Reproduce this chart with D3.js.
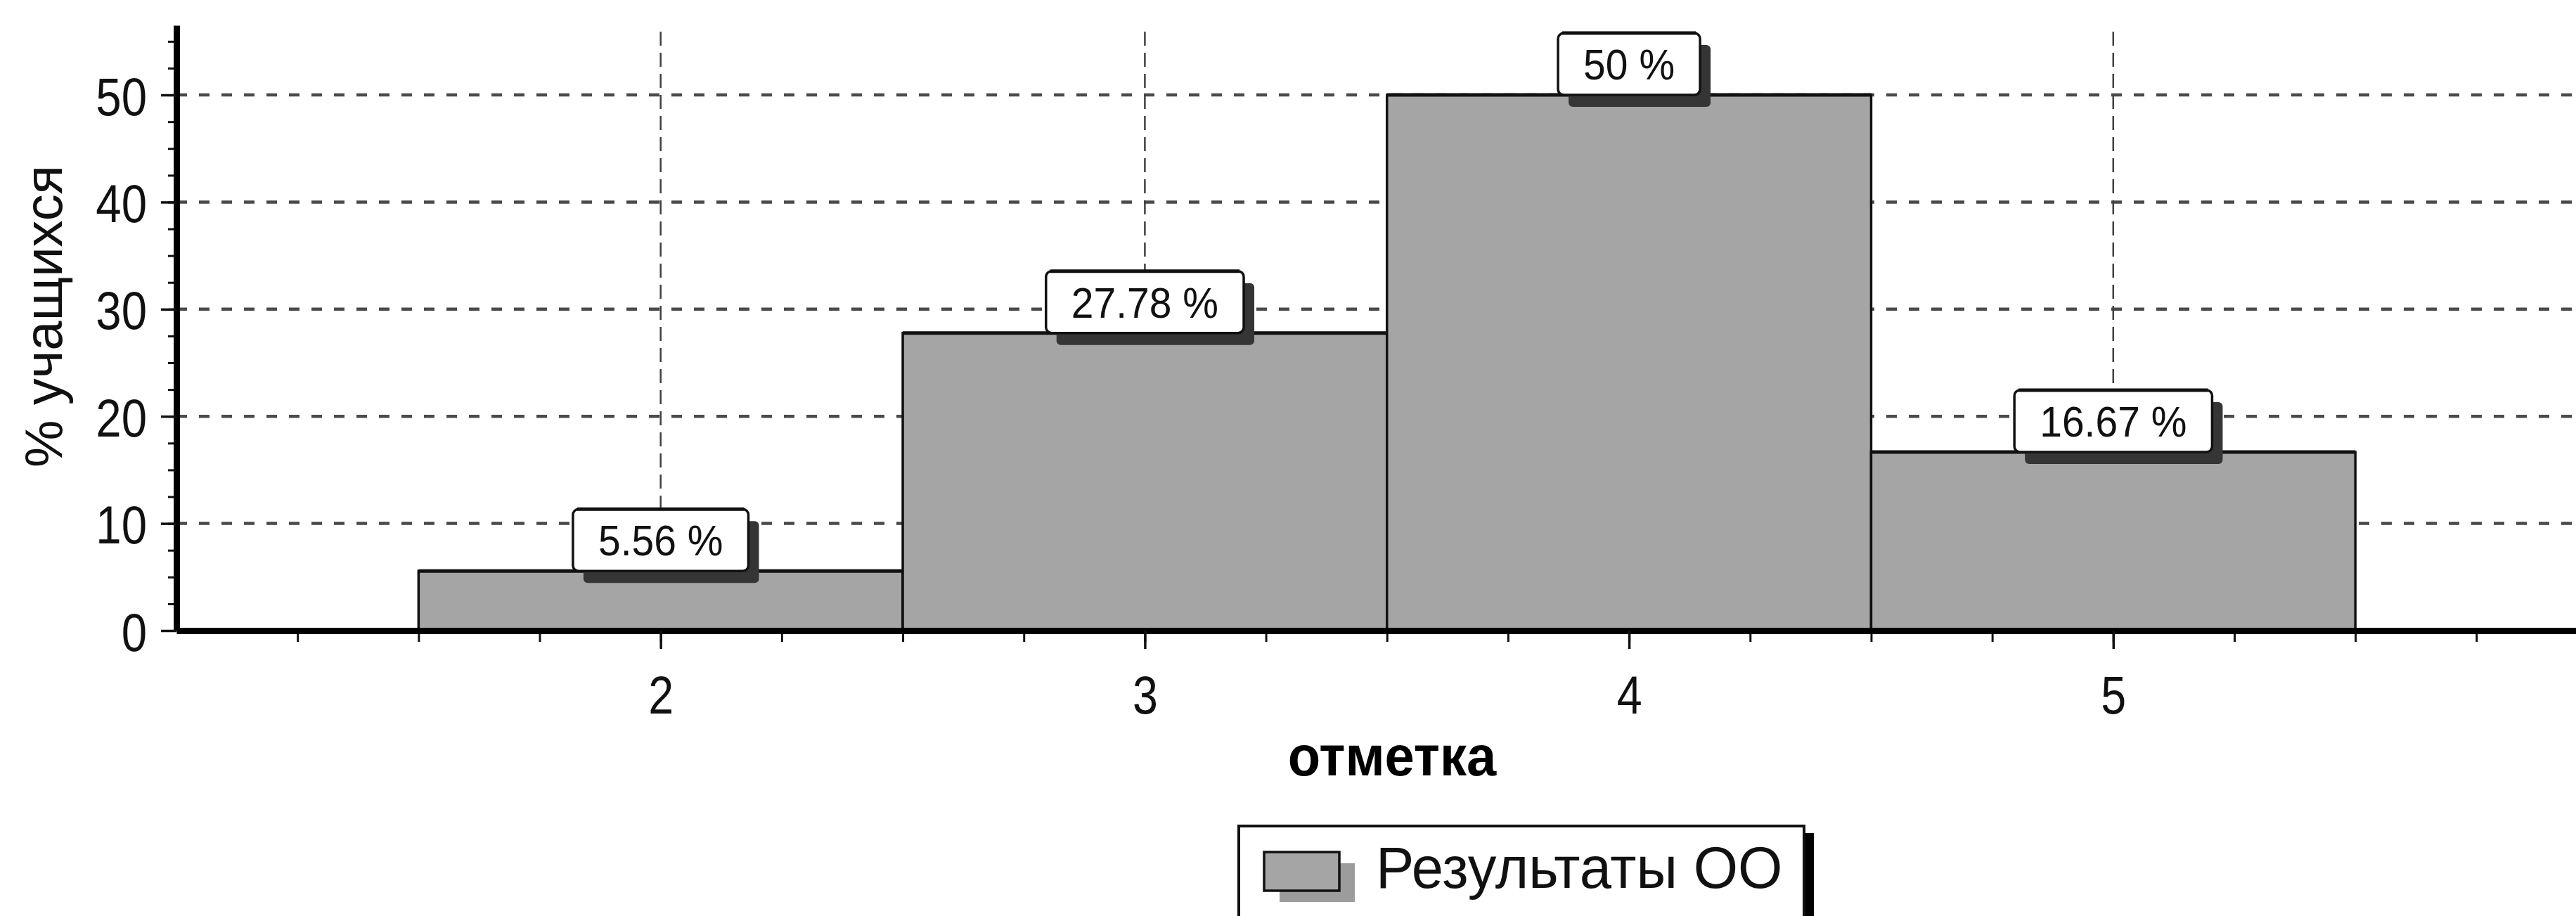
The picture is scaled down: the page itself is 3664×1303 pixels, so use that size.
<!DOCTYPE html>
<html>
<head>
<meta charset="utf-8">
<script src="https://cdn.jsdelivr.net/npm/d3@7"></script>
<style>
  html, body { margin: 0; padding: 0; background: #fff; }
  svg { display: block; }
</style>
</head>
<body>
<svg id="chart" width="3664" height="1303"></svg>
<script>
// ---- data ----
const categories = ["2", "3", "4", "5"];
const values = [5.56, 27.78, 50, 16.67];
const valueLabels = ["5.56 %", "27.78 %", "50 %", "16.67 %"];
const yTicks = [0, 10, 20, 30, 40, 50];
const xTicks = [2, 3, 4, 5];
const seriesName = "Результаты ОО";
const xTitle = "отметка";
const yTitle = "% учащихся";

// ---- setup ----
const W = 3664, H = 1303;
const svg = d3.select("#chart");
const FONT = "'Liberation Sans', Arial, sans-serif";

const x = d3.scaleLinear().domain([1, 6]).range([251, 3694.5]);
const y = d3.scaleLinear().domain([0, 56.5]).range([897, 36]);

// ---- grid ----
const grid = svg.append("g");
grid.selectAll("line.h").data(yTicks.filter(d => d > 0)).join("line")
  .attr("x1", x(1)).attr("x2", W)
  .attr("y1", d => y(d)).attr("y2", d => y(d))
  .attr("stroke", "#4a4a4a").attr("stroke-width", 4.5)
  .attr("stroke-dasharray", "15,17");
grid.selectAll("line.v").data(xTicks).join("line")
  .attr("x1", d => x(d)).attr("x2", d => x(d))
  .attr("y1", 45).attr("y2", y(0))
  .attr("stroke", "#404040").attr("stroke-width", 2.5)
  .attr("stroke-dasharray", "20,10");

// ---- bars ----
const bars = svg.append("g");
const data = categories.map((c, i) => ({ c: +c, v: values[i], label: valueLabels[i] }));
bars.selectAll("rect").data(data).join("rect")
  .attr("x", d => x(d.c - 0.5))
  .attr("width", d => x(d.c + 0.5) - x(d.c - 0.5))
  .attr("y", d => y(d.v))
  .attr("height", d => y(0) - y(d.v))
  .attr("fill", "#a5a5a5")
  .attr("stroke", "#111").attr("stroke-width", 3.5);
bars.selectAll("line").data(data).join("line")
  .attr("x1", d => x(d.c - 0.5)).attr("x2", d => x(d.c + 0.5))
  .attr("y1", d => y(d.v)).attr("y2", d => y(d.v))
  .attr("stroke", "#111").attr("stroke-width", 5);

// ---- axes ----
// y minor
const yMinor = svg.append("g").attr("transform", `translate(${x(1)},0)`)
  .call(d3.axisLeft(y).tickValues(d3.range(0, 56, 2.5)).tickSize(12).tickSizeOuter(0).tickFormat(""));
yMinor.select(".domain").remove();
yMinor.selectAll(".tick line").attr("stroke", "#111").attr("stroke-width", 3);
// y major
const yAxis = svg.append("g").attr("transform", `translate(${x(1)},0)`)
  .call(d3.axisLeft(y).tickValues(yTicks).tickSize(22).tickSizeOuter(0));
yAxis.select(".domain").attr("stroke", "#000").attr("stroke-width", 9);
yAxis.selectAll(".tick line").attr("stroke", "#111").attr("stroke-width", 3.5);
yAxis.selectAll(".tick text")
  .attr("x", 0).attr("dy", null)
  .attr("transform", "translate(-42,28) scale(0.86,1)")
  .attr("text-anchor", "end")
  .attr("fill", "#111")
  .style("font-family", FONT).style("font-size", "76px");

// x minor
const xMinor = svg.append("g").attr("transform", `translate(0,${y(0)})`)
  .call(d3.axisBottom(x).tickValues(d3.range(1.25, 6, 0.25)).tickSize(16).tickSizeOuter(0).tickFormat(""));
xMinor.select(".domain").remove();
xMinor.selectAll(".tick line").attr("stroke", "#111").attr("stroke-width", 3);
// x major
const xAxis = svg.append("g").attr("transform", `translate(0,${y(0)})`)
  .call(d3.axisBottom(x).tickValues(xTicks).tickSize(26).tickSizeOuter(0).tickFormat(d3.format("d")));
xAxis.select(".domain").attr("stroke", "#000").attr("stroke-width", 9);
xAxis.selectAll(".tick line").attr("stroke", "#111").attr("stroke-width", 3.5);
xAxis.selectAll(".tick text")
  .attr("y", 0).attr("dy", null)
  .attr("transform", "translate(0,118) scale(0.85,1)")
  .attr("fill", "#111")
  .style("font-family", FONT).style("font-size", "76px");

// ---- axis titles ----
svg.append("text")
  .attr("transform", "translate(88,450) rotate(-90)")
  .attr("text-anchor", "middle")
  .attr("fill", "#111")
  .style("font-family", FONT).style("font-size", "76px")
  .text(yTitle);

svg.append("text")
  .attr("transform", "translate(1980,1103) scale(0.95,1)")
  .attr("text-anchor", "middle")
  .attr("fill", "#000")
  .style("font-family", FONT).style("font-size", "80px").style("font-weight", "bold")
  .text(xTitle);

// ---- value labels ----
const lab = svg.append("g");
const LS = 0.92, PAD = 36, BH = 88;
data.forEach(d => {
  const g = lab.append("g");
  const t = g.append("text")
    .attr("text-anchor", "middle")
    .attr("transform", `translate(${x(d.c)},${y(d.v) - 22}) scale(${LS},1)`)
    .attr("fill", "#111")
    .style("font-family", FONT).style("font-size", "62px")
    .text(d.label);
  const tw = t.node().getComputedTextLength() * LS;
  const bw = tw + 2 * PAD;
  const bx = x(d.c) - bw / 2, by = y(d.v) - BH;
  g.insert("rect", "text")
    .attr("x", bx + 15).attr("y", by + 17).attr("width", bw).attr("height", BH)
    .attr("rx", 6).attr("fill", "#353535");
  g.insert("rect", "text")
    .attr("x", bx).attr("y", by).attr("width", bw).attr("height", BH)
    .attr("rx", 8).attr("fill", "#fff")
    .attr("stroke", "#111").attr("stroke-width", 3.5);
  g.insert("line", "text")
    .attr("x1", bx + 6).attr("x2", bx + bw - 6)
    .attr("y1", by).attr("y2", by)
    .attr("stroke", "#111").attr("stroke-width", 5);
});

// ---- legend ----
const leg = svg.append("g");
leg.append("rect").attr("x", 2566).attr("y", 1185).attr("width", 14).attr("height", 160).attr("fill", "#000");
leg.append("rect").attr("x", 1762).attr("y", 1175).attr("width", 804).attr("height", 170)
  .attr("fill", "#fff").attr("stroke", "#111").attr("stroke-width", 4);
leg.append("rect").attr("x", 1820).attr("y", 1228).attr("width", 107).attr("height", 55).attr("fill", "#9c9c9c");
leg.append("rect").attr("x", 1798).attr("y", 1212).attr("width", 107).attr("height", 55)
  .attr("fill", "#a5a5a5").attr("stroke", "#111").attr("stroke-width", 3.5);
leg.append("text")
  .attr("transform", "translate(1957,1263) scale(0.97,1)")
  .attr("fill", "#111")
  .style("font-family", FONT).style("font-size", "84px")
  .text(seriesName);
</script>
</body>
</html>
